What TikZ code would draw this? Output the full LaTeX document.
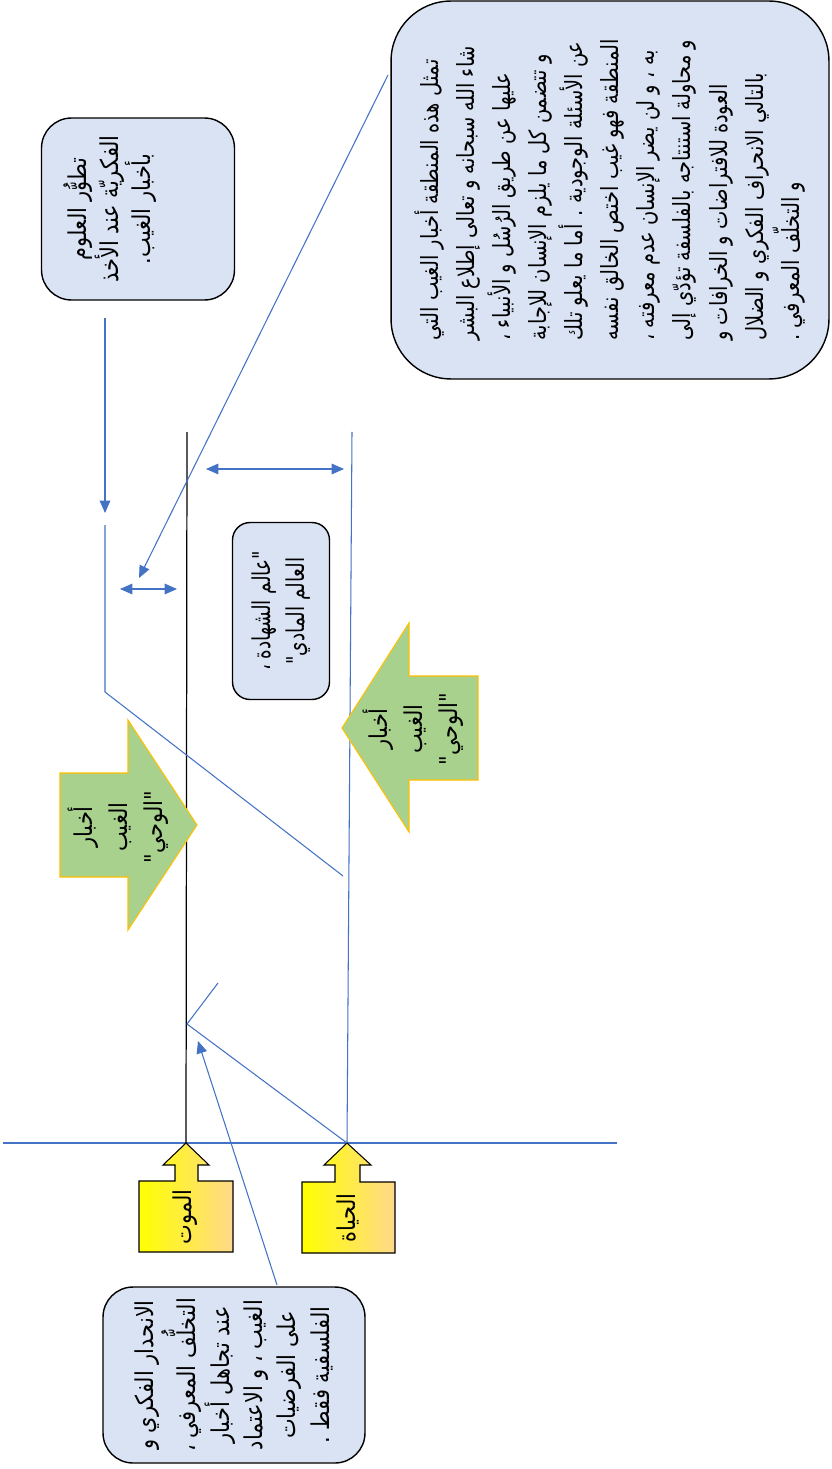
\documentclass[tikz,border=0pt]{standalone}
\usepackage{fontspec}
\usepackage{xcolor}
\usepackage{graphicx}
\usetikzlibrary{arrows.meta}
\TeXXeTstate=1
\newfontfamily\arabicfont[Script=Arabic]{DejaVu Sans}
\newcommand{\arsqueeze}{0.85}
\newcommand{\artext}[1]{\scalebox{\arsqueeze}[1]{\arabicfont\beginR #1\endR}}
\definecolor{boxblue}{HTML}{DAE3F3}
\definecolor{lineblue}{HTML}{4472C4}
\definecolor{leafgreen}{HTML}{A9D18E}
\definecolor{goldedge}{HTML}{FFC000}
\definecolor{sandorange}{HTML}{FFD98A}
\tikzstyle{note box}=[
    draw = black,
    fill = boxblue,
    line width = 0.8pt,
    rotate = 90,
    inner sep = 2pt
]
\tikzstyle{blue line}=[draw = lineblue, line width = 0.6pt]
\tikzstyle{blue arrow}=[blue line, -{Triangle[length=7pt,width=6pt]}]
\tikzstyle{span arrow}=[blue line, {Triangle[length=7pt,width=6pt]}-{Triangle[length=7pt,width=6pt]}]
\tikzstyle{news arrow}=[draw = goldedge, fill = leafgreen, line width = 0.6pt]
\tikzstyle{event arrow}=[draw = black, left color = yellow, right color = sandorange, line width = 0.6pt]

\begin{document}
\begin{tikzpicture}[x=0.02cm, y=-0.02cm,
    side text/.style = {rotate=90, align=center, font=\fontsize{14}{20}\selectfont}]
        \useasboundingbox[fill=white] (0,0) rectangle (831,1469);

        % frame lines
        \coordinate (axisleft) at (3,1143);
        \coordinate (axisright) at (617,1143);
        \coordinate (deathtip) at (186,1143);
        \coordinate (deathtop) at (187,432);
        \coordinate (lifetip) at (347,1143);
        \coordinate (lifetop) at (352,432);
        \draw[blue line] (axisleft) -- (axisright);
        \draw[black, line width=0.7pt] (deathtop) -- (deathtip);
        \draw[blue line] (lifetop) -- (lifetip);

        % notes
        \node[note box, rounded corners=1.2cm, minimum width=7.56cm, minimum height=8.76cm,
              align=left, font=\fontsize{13.5}{20.5}\selectfont\def\arsqueeze{0.82}] (hidden) at (610,190) {
            \artext{تمثل هذه المنطقة أخبار الغيب التي}\\
            \artext{شاء الله سبحانه و تعالى إطلاع البشر}\\
            \artext{عليها عن طريق الرُسُل و الأنبياء ،}\\
            \artext{و تتضمن كل ما يلزم الإنسان للإجابة}\\
            \artext{عن الأسئلة الوجودية . أما ما يعلو تلك}\\
            \artext{المنطقة فهو غيب اختص الخالق نفسه}\\
            \artext{به ، و لن يضر الإنسان عدم معرفته ،}\\
            \artext{و محاولة استنتاجه بالفلسفة تؤدّي إلى}\\
            \artext{العودة للافتراضات و الخرافات و}\\
            \artext{بالتالي الانحراف الفكري و الضلال}\\
            \artext{و التخلّف المعرفي .}};
        \node[note box, rounded corners=0.6cm, minimum width=3.64cm, minimum height=3.86cm] (growth) at (138,209) {};
        \node[side text, anchor=north, inner sep=0.45cm, font=\fontsize{14}{18}\selectfont] (growthtext) at (growth.north) {
            \artext{تطوُّر العلوم}\\
            \artext{الفكريّة عند الأخذ}\\
            \artext{بأخبار الغيب.}};
        \node[note box, rounded corners=0.35cm, minimum width=3.54cm, minimum height=1.94cm,
              align=center, font=\fontsize{14}{19}\selectfont\def\arsqueeze{0.75}] (world) at (281,611) {
            \artext{"عالم الشهادة ،}\\
            \artext{العالم المادي"}};
        \node[note box, rounded corners=0.6cm, minimum width=3.52cm, minimum height=5.24cm,
              align=center, font=\fontsize{14}{19}\selectfont] (decline) at (234,1375) {
            \artext{الانحدار الفكري و}\\
            \artext{التخلُّف المعرفي ،}\\
            \artext{عند تجاهل أخبار}\\
            \artext{الغيب ، و الاعتماد}\\
            \artext{على الفرضيات}\\
            \artext{الفلسفية فقط .}};

        % revelation arrows
        \draw[news arrow] (60,773) -- (128,773) -- (128,720) -- (197,825) -- (128,930)
            -- (128,877) -- (60,877) -- cycle;
        \node[side text] (newsleft) at (118,827) {\artext{أخبار}\\\artext{الغيب}\\\artext{"الوحي"}};
        \draw[news arrow] (342,728) -- (409,623) -- (409,676) -- (478,676) -- (478,780)
            -- (409,780) -- (409,832) -- cycle;
        \node[side text] (newsright) at (413,729) {\artext{أخبار}\\\artext{الغيب}\\\artext{"الوحي"}};

        % death and life
        \draw[event arrow] (186,1143) -- (209,1165) -- (198,1165) -- (198,1181) -- (233,1181)
            -- (233,1252) -- (139,1252) -- (139,1181) -- (175,1181) -- (175,1165) -- (163,1165) -- cycle;
        \node[side text] (death) at (185,1217) {\artext{الموت}};
        \draw[event arrow] (347,1143) -- (371,1165) -- (360,1165) -- (360,1182) -- (395,1182)
            -- (395,1253) -- (302,1253) -- (302,1182) -- (335,1182) -- (335,1165) -- (324,1165) -- cycle;
        \node[side text] (life) at (348,1218) {\artext{الحياة}};

        % region lines
        \coordinate (upgap) at (105,513);
        \coordinate (upstart) at (105,525);
        \coordinate (upbend) at (105,692);
        \coordinate (upend) at (343,876);
        \coordinate (lowbend) at (187,1024);
        \coordinate (lowtick) at (218,983);
        \draw[blue line] (upstart) -- (upbend) -- (upend);
        \draw[blue line] (lowtick) -- (lowbend) -- (lifetip);

        % pointers
        \draw[blue arrow] (105,318) -- (upgap);
        \draw[blue arrow] (388,75) -- (139,578);
        \draw[blue arrow] (277,1285) -- (198,1041);
        \draw[span arrow] (120,589) -- (177,589);
        \draw[span arrow] (206,469) -- (344,469);
    \end{tikzpicture}
\end{document}
